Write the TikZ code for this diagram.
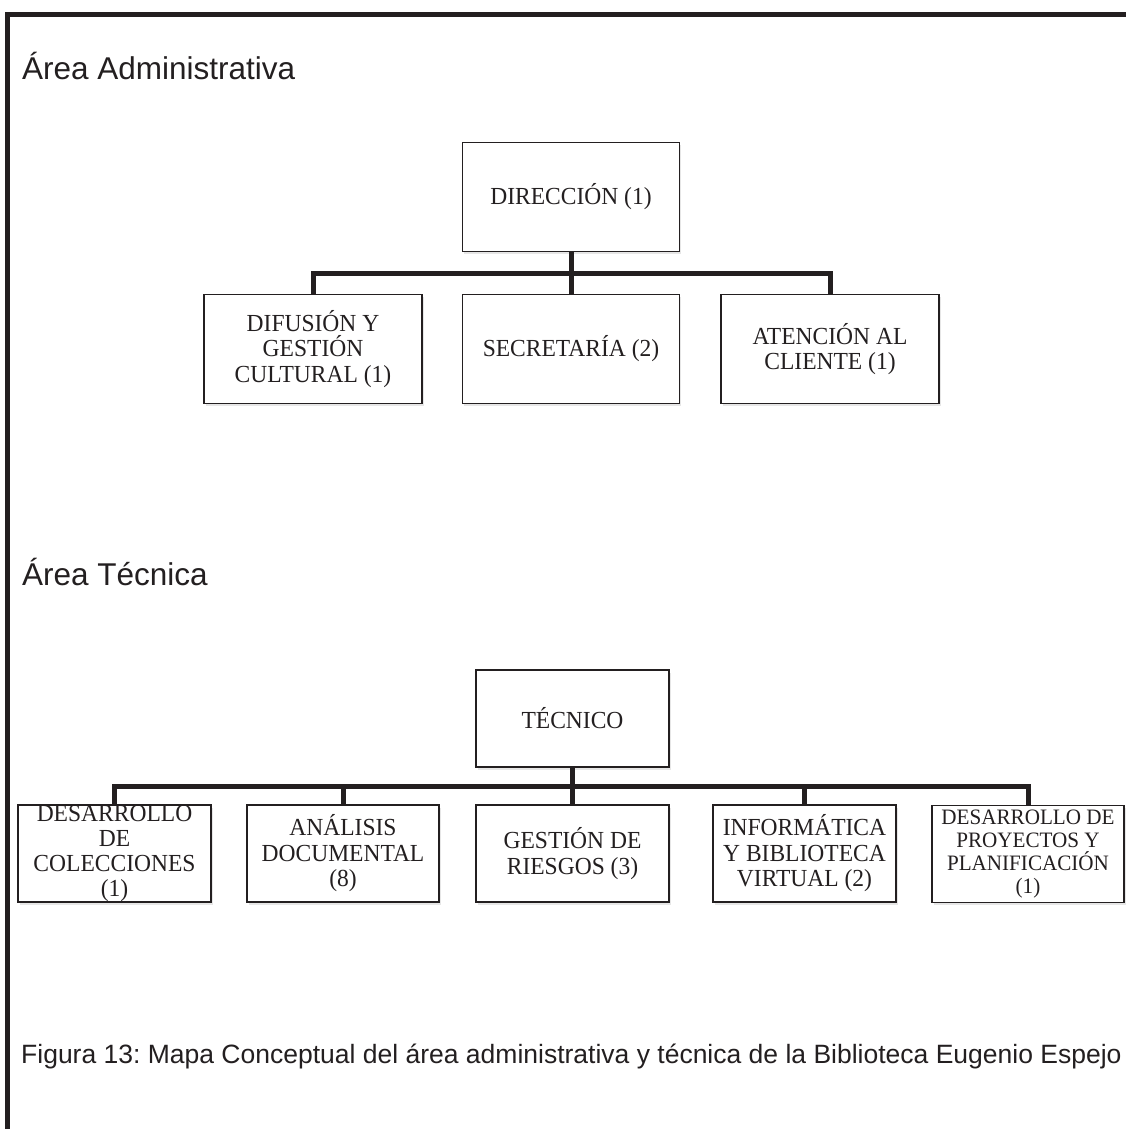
\documentclass[tikz,border=0pt]{standalone}
\usepackage{fontspec}
\setmainfont{Liberation Serif}[FakeStretch=0.96]
\setsansfont{Liberation Sans}
\usepackage{tikz}
\usetikzlibrary{positioning}
\usetikzlibrary{shadows}
\definecolor{tinta}{RGB}{35,31,32}
\frenchspacing
\tikzset{% cajas y lineas del organigrama
        caja/.style={draw=tinta, line width=1.6pt, fill=white, align=center, inner sep=0pt,
                     text=tinta, font=\fontsize{24.5}{25.5}\selectfont,
                     drop shadow={shadow xshift=1.5pt, shadow yshift=-2.5pt, opacity=0.2}},
        cajaA/.style={caja, minimum width=217pt, minimum height=109pt},
        cajaT/.style={caja, minimum width=193pt, minimum height=97pt},
        conector/.style={draw=tinta, line width=5pt},
        titulo/.style={anchor=base west, inner sep=0pt, text=tinta, font=\sffamily\fontsize{31.5}{36}\selectfont},
        pie/.style={anchor=base west, inner sep=0pt, text=tinta, font=\sffamily\fontsize{26.5}{30}\selectfont}
        }

\begin{document}
\begin{tikzpicture}[x=1pt, y=-1pt]
\useasboundingbox (0,0) rectangle (1126,1129);
% marco
\draw[tinta, line width=5pt] (1126,14.5) -- (7.5,14.5) -- (7.5,1129);

% area administrativa
\node[titulo] (admin) at (22,80) {Área Administrativa};
\node[cajaA] (dir) at (571,197) {DIRECCIÓN (1)};
\node[cajaA, minimum width=218pt] (dif) at (313,349) {DIFUSIÓN Y\\GESTIÓN\\CULTURAL (1)};
\node[cajaA] (sec) at (571,349) {SECRETARÍA (2)};
\node[cajaA, minimum width=218pt] (ate) at (830,349) {ATENCIÓN AL\\CLIENTE (1)};
\coordinate (barraA) at (571,273);
\draw[conector] (dir.south) -- (sec.north);
\draw[conector] (dif.north) |- (barraA) -| (ate.north);

% area tecnica
\node[titulo] (tecnica) at (22,585) {Área Técnica};
\node[cajaT] (tec) at (572.5,718.5) {TÉCNICO};
\node[cajaT, font=\fontsize{24.5}{24.7}\selectfont] (col) at (114.5,853.5) {DESARROLLO\\DE\\COLECCIONES\\(1)};
\node[cajaT, minimum width=192pt] (ana) at (343,853.5) {ANÁLISIS\\DOCUMENTAL\\(8)};
\node[cajaT] (rie) at (572.5,853.5) {GESTIÓN DE\\RIESGOS (3)};
\node[cajaT, minimum width=183pt] (inf) at (804.5,853.5) {INFORMÁTICA\\Y BIBLIOTECA\\VIRTUAL (2)};
\node[cajaT, minimum width=192pt, font=\fontsize{22}{23}\selectfont] (pro) at (1028,854) {DESARROLLO DE\\PROYECTOS Y\\PLANIFICACIÓN\\(1)};
\coordinate (barraT) at (572.5,786);
\draw[conector] (tec.south) -- (rie.north);
\draw[conector] (col.north) |- (barraT) -| (pro.north);
\draw[conector] (barraT) -| (ana.north);
\draw[conector] (barraT) -| (inf.north);

\node[pie] (leyenda) at (21,1063) {Figura 13: Mapa Conceptual del área administrativa y técnica de la Biblioteca Eugenio Espejo};
\end{tikzpicture}
\end{document}
